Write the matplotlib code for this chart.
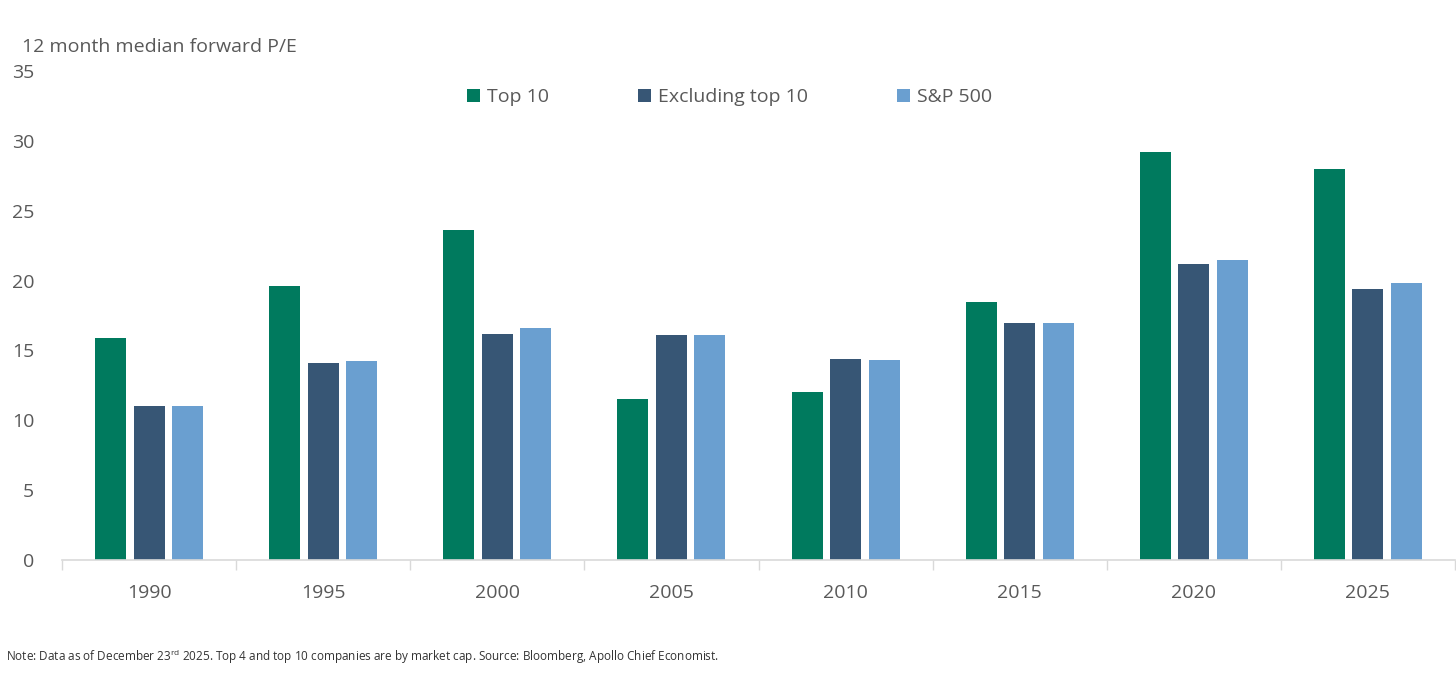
import matplotlib
matplotlib.use("Agg")
import matplotlib.pyplot as plt
import numpy as np

years = ["1990", "1995", "2000", "2005", "2010", "2015", "2020", "2025"]
top10 = [15.9, 19.6, 23.6, 11.5, 12.0, 18.5, 29.2, 28.0]
excl_top10 = [11.0, 14.1, 16.2, 16.1, 14.4, 16.95, 21.2, 19.4]
sp500 = [11.05, 14.25, 16.6, 16.1, 14.35, 16.95, 21.45, 19.8]
series_names = ["Top 10", "Excluding top 10", "S&P 500"]
colors = ["#007A5E", "#375675", "#6A9FD0"]

plt.rcParams['font.family'] = ['Open Sans', 'DejaVu Sans']
txt = "#595959"

fig = plt.figure(figsize=(14.56, 6.74), dpi=100)
ax = fig.add_axes([62/1456, 114/674, 1393/1456, 489/674])

x = np.arange(len(years))
w = 0.178
step = 0.221
for i, (vals, name, c) in enumerate(zip([top10, excl_top10, sp500], series_names, colors)):
    ax.bar(x + (i - 1) * step, vals, width=w, color=c, label=name, zorder=2)

ax.set_xlim(-0.5, len(years) - 0.5)
ax.set_ylim(0, 35)
ax.set_yticks(np.arange(0, 36, 5))
ax.set_xticks(x)
ax.set_xticklabels(years)
ax.set_xticks(np.arange(-0.5, len(years), 1), minor=True)
ax.tick_params(axis='x', which='major', length=0, pad=17, labelsize=14, labelcolor=txt)
ax.tick_params(axis='x', which='minor', length=7, width=1, color="#D9D9D9", direction='out')
ax.tick_params(axis='y', length=0, pad=20, labelsize=14, labelcolor=txt)
for s in ["top", "right", "left"]:
    ax.spines[s].set_visible(False)
ax.spines["bottom"].set_color("#D9D9D9")
ax.spines["bottom"].set_linewidth(1.2)

leg = ax.legend(loc="center", bbox_to_anchor=(0.5 + (729 - 758) / 1393, 1 - (97 - 71) / 489),
                ncol=3, frameon=False, fontsize=14, handlelength=0.65, handleheight=0.65,
                handletextpad=0.35, columnspacing=4.6, labelcolor=txt)

fig.text(22/1456, 1 - 47/674, "12 month median forward P/E", fontsize=14, color=txt,
         ha="left", va="center")
fig.text(6/1456, 1 - 657/674,
         "Note: Data as of December 23$^{\\mathregular{rd}}$ 2025. Top 4 and top 10 companies are by market cap. Source: Bloomberg, Apollo Chief Economist.",
         fontsize=8.5, color="#333333", ha="left", va="center")

fig.savefig("out.png", dpi=100)
